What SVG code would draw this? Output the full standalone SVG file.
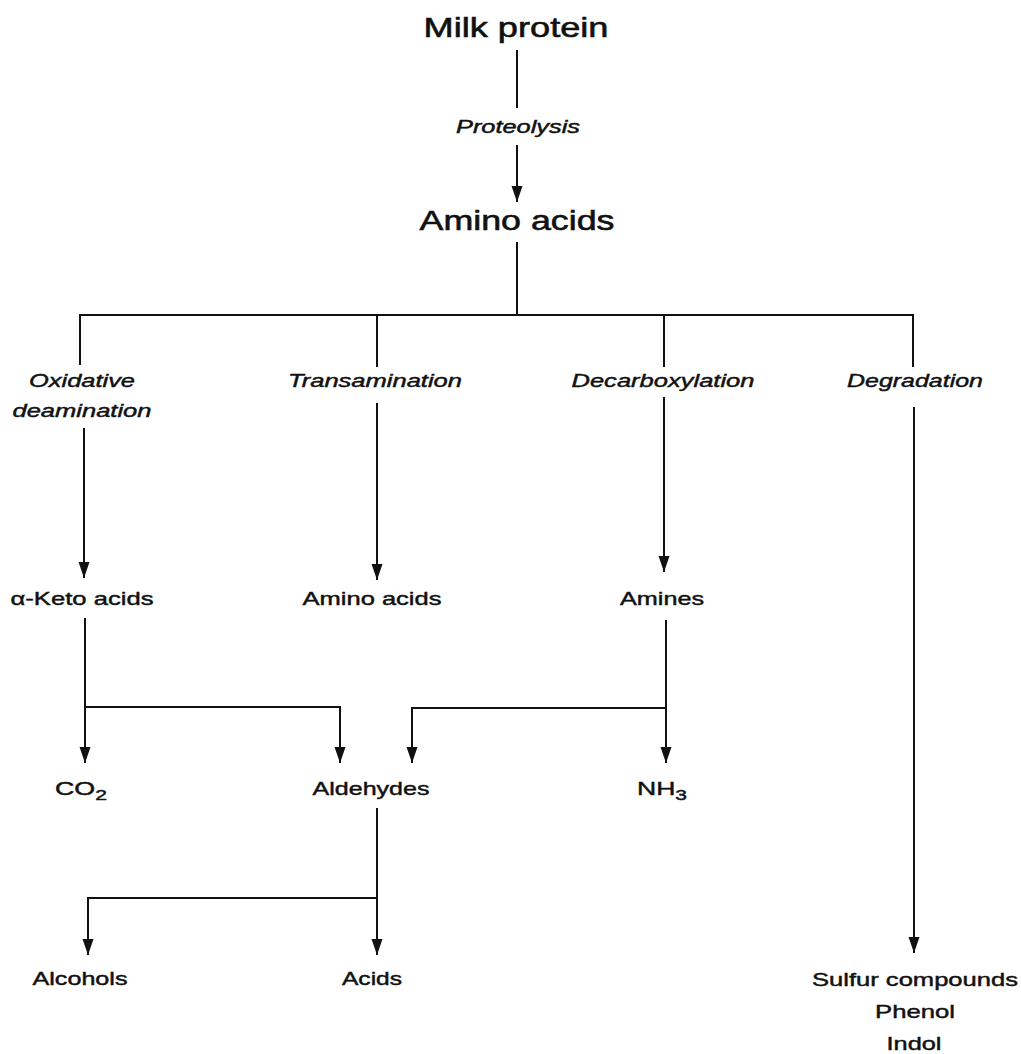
<svg xmlns="http://www.w3.org/2000/svg" width="1021" height="1054" viewBox="0 0 1021 1054">
<defs>
<marker id="arr" markerUnits="userSpaceOnUse" markerWidth="18" markerHeight="14" viewBox="0 -7 18 14" refX="16" refY="0" orient="auto">
<path d="M0,-5.5 L16,0 L0,5.5 z" fill="#111"/>
</marker>
</defs>
<style>
text{font-family:"Liberation Sans",Arial,sans-serif;fill:#111;stroke:#111;stroke-width:0.45;text-anchor:middle}
.big{font-size:28px;stroke-width:0.6}
.lab{font-size:19px}
.it{font-size:19px;font-style:italic}
.sm{font-size:18px;font-style:italic}
.ln{fill:none;stroke:#111;stroke-width:2}
.ar{fill:none;stroke:#111;stroke-width:2;marker-end:url(#arr)}
</style>
<rect width="1021" height="1054" fill="#fff"/>
<g id="connectors">
<line class="ln" x1="517" y1="50" x2="517" y2="108"/>
<line class="ar" x1="517" y1="145" x2="517" y2="202"/>
<line class="ln" x1="517" y1="242" x2="517" y2="315"/>
<line class="ln" x1="80" y1="315" x2="913" y2="315"/>
<line class="ln" x1="80" y1="314" x2="80" y2="365"/>
<line class="ln" x1="377" y1="315" x2="377" y2="367"/>
<line class="ln" x1="664" y1="315" x2="664" y2="367"/>
<line class="ln" x1="913" y1="314" x2="913" y2="367"/>
<line class="ar" x1="84" y1="428" x2="84" y2="578"/>
<line class="ar" x1="377" y1="403" x2="377" y2="580"/>
<line class="ar" x1="664" y1="397" x2="664" y2="572"/>
<line class="ar" x1="914" y1="407" x2="914" y2="953"/>
<line class="ar" x1="85" y1="618" x2="85" y2="763"/>
<polyline class="ar" points="85,707 340,707 340,763"/>
<line class="ar" x1="666" y1="620" x2="666" y2="763"/>
<polyline class="ar" points="666,708 412,708 412,763"/>
<line class="ar" x1="377" y1="808" x2="377" y2="955"/>
<polyline class="ar" points="377,898 88,898 88,955"/>
</g>
<g id="milk-protein"><text class="big" x="516" y="37" textLength="185" lengthAdjust="spacingAndGlyphs">Milk protein</text></g>
<g id="proteolysis"><text class="sm" x="518" y="133" textLength="124" lengthAdjust="spacingAndGlyphs">Proteolysis</text></g>
<g id="amino-acids-top"><text class="big" x="517" y="230" textLength="195" lengthAdjust="spacingAndGlyphs">Amino acids</text></g>
<g id="oxidative-deamination">
<text class="it" x="82" y="387" textLength="106" lengthAdjust="spacingAndGlyphs">Oxidative</text>
<text class="it" x="82" y="417" textLength="139" lengthAdjust="spacingAndGlyphs">deamination</text>
</g>
<g id="transamination"><text class="it" x="375" y="387" textLength="174" lengthAdjust="spacingAndGlyphs">Transamination</text></g>
<g id="decarboxylation"><text class="it" x="663" y="387" textLength="183" lengthAdjust="spacingAndGlyphs">Decarboxylation</text></g>
<g id="degradation"><text class="it" x="915" y="387" textLength="136" lengthAdjust="spacingAndGlyphs">Degradation</text></g>
<g id="keto-acids"><text class="lab" x="82" y="605" textLength="143" lengthAdjust="spacingAndGlyphs">α-Keto acids</text></g>
<g id="amino-acids"><text class="lab" x="372" y="605" textLength="139" lengthAdjust="spacingAndGlyphs">Amino acids</text></g>
<g id="amines"><text class="lab" x="662" y="605" textLength="84" lengthAdjust="spacingAndGlyphs">Amines</text></g>
<g id="co2"><text class="lab" x="81" y="795" textLength="52" lengthAdjust="spacingAndGlyphs">CO<tspan dy="5" font-size="15">2</tspan></text></g>
<g id="aldehydes"><text class="lab" x="371" y="795" textLength="117" lengthAdjust="spacingAndGlyphs">Aldehydes</text></g>
<g id="nh3"><text class="lab" x="662" y="795" textLength="50" lengthAdjust="spacingAndGlyphs">NH<tspan dy="5" font-size="15">3</tspan></text></g>
<g id="alcohols"><text class="lab" x="80" y="985" textLength="95" lengthAdjust="spacingAndGlyphs">Alcohols</text></g>
<g id="acids"><text class="lab" x="372" y="985" textLength="60" lengthAdjust="spacingAndGlyphs">Acids</text></g>
<g id="sulfur-phenol-indol">
<text class="lab" x="915" y="986" textLength="206" lengthAdjust="spacingAndGlyphs">Sulfur compounds</text>
<text class="lab" x="915" y="1018" textLength="80" lengthAdjust="spacingAndGlyphs">Phenol</text>
<text class="lab" x="914" y="1050" textLength="55" lengthAdjust="spacingAndGlyphs">Indol</text>
</g>
</svg>
